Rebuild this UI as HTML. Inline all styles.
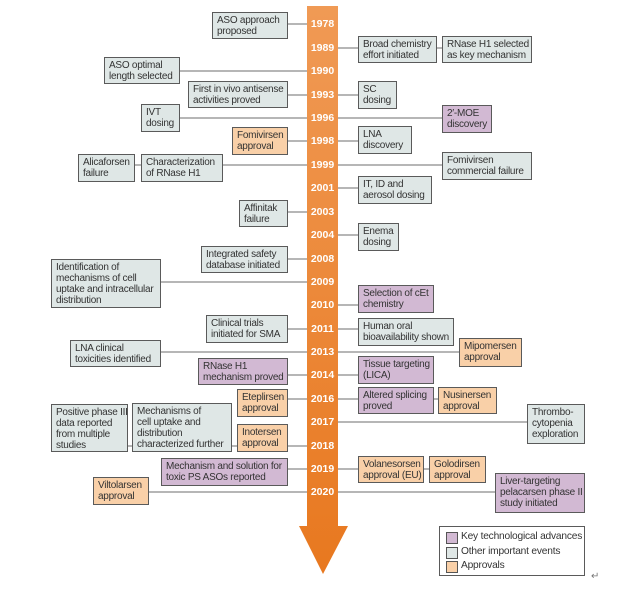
<!DOCTYPE html>
<html><head><meta charset="utf-8"><style>
body{margin:0;width:620px;height:589px;background:#fff;position:relative;overflow:hidden;font-family:"Liberation Sans",sans-serif;}
.b{position:absolute;box-sizing:border-box;border:1px solid #5a5a5a;font-size:10px;line-height:11px;color:#333;padding:2px 2px 0 4px;white-space:nowrap;letter-spacing:-0.25px;overflow:hidden}
.g{background:#dfe7e6}.o{background:#f9d0a8}.p{background:#d2b9d3}
.y{position:absolute;left:307px;width:31px;text-align:center;color:#fff;font-weight:bold;font-size:10.5px;line-height:12px}
svg{position:absolute;left:0;top:0}
</style></head><body>
<svg width="620" height="589">
<defs><linearGradient id="gr" x1="0" y1="0" x2="0" y2="1"><stop offset="0" stop-color="#f09a55"/><stop offset="1" stop-color="#e8781f"/></linearGradient></defs>
<g stroke="#8a8a8a" stroke-width="1.2">
<line x1="288" y1="24" x2="307" y2="24"/>
<line x1="338" y1="48" x2="442" y2="48"/>
<line x1="180" y1="71" x2="307" y2="71"/>
<line x1="288" y1="95" x2="307" y2="95"/><line x1="338" y1="95" x2="358" y2="95"/>
<line x1="180" y1="118" x2="307" y2="118"/><line x1="338" y1="118" x2="442" y2="118"/>
<line x1="288" y1="141" x2="307" y2="141"/><line x1="338" y1="141" x2="358" y2="141"/>
<line x1="135" y1="165" x2="307" y2="165"/><line x1="338" y1="165" x2="442" y2="165"/>
<line x1="338" y1="188" x2="358" y2="188"/>
<line x1="288" y1="212" x2="307" y2="212"/>
<line x1="338" y1="235" x2="358" y2="235"/>
<line x1="288" y1="259" x2="307" y2="259"/>
<line x1="161" y1="282" x2="307" y2="282"/>
<line x1="338" y1="305" x2="358" y2="305"/>
<line x1="288" y1="329" x2="307" y2="329"/><line x1="338" y1="329" x2="358" y2="329"/>
<line x1="161" y1="352" x2="307" y2="352"/><line x1="338" y1="352" x2="459" y2="352"/>
<line x1="288" y1="375" x2="307" y2="375"/><line x1="338" y1="375" x2="358" y2="375"/>
<line x1="288" y1="399" x2="307" y2="399"/><line x1="338" y1="399" x2="438" y2="399"/>
<line x1="338" y1="422" x2="527" y2="422"/>
<line x1="128" y1="446" x2="307" y2="446"/>
<line x1="288" y1="469" x2="307" y2="469"/><line x1="338" y1="469" x2="429" y2="469"/>
<line x1="149" y1="492" x2="307" y2="492"/><line x1="338" y1="492" x2="495" y2="492"/>
</g>
<path d="M307 6 H338 V526 H348 L323 574 L299 526 H307 Z" fill="url(#gr)"/>
</svg>
<div class="y" style="top:18px">1978</div><div class="y" style="top:42px">1989</div><div class="y" style="top:65px">1990</div><div class="y" style="top:89px">1993</div><div class="y" style="top:112px">1996</div><div class="y" style="top:135px">1998</div><div class="y" style="top:159px">1999</div><div class="y" style="top:182px">2001</div><div class="y" style="top:206px">2003</div><div class="y" style="top:229px">2004</div><div class="y" style="top:253px">2008</div><div class="y" style="top:276px">2009</div><div class="y" style="top:299px">2010</div><div class="y" style="top:323px">2011</div><div class="y" style="top:346px">2013</div><div class="y" style="top:369px">2014</div><div class="y" style="top:393px">2016</div><div class="y" style="top:416px">2017</div><div class="y" style="top:440px">2018</div><div class="y" style="top:463px">2019</div><div class="y" style="top:486px">2020</div>

<div class="b g" style="left:212px;top:12px;width:76px;height:27px">ASO approach<br>proposed</div>
<div class="b g" style="left:104px;top:57px;width:76px;height:27px">ASO optimal<br>length selected</div>
<div class="b g" style="left:188px;top:81px;width:100px;height:27px">First in vivo antisense<br>activities proved</div>
<div class="b g" style="left:141px;top:104px;width:39px;height:28px">IVT<br>dosing</div>
<div class="b o" style="left:232px;top:127px;width:56px;height:28px">Fomivirsen<br>approval</div>
<div class="b g" style="left:78px;top:154px;width:57px;height:28px">Alicaforsen<br>failure</div>
<div class="b g" style="left:141px;top:154px;width:82px;height:28px">Characterization<br>of RNase H1</div>
<div class="b g" style="left:358px;top:36px;width:79px;height:27px">Broad chemistry<br>effort initiated</div>
<div class="b g" style="left:442px;top:36px;width:90px;height:27px">RNase H1 selected<br>as key mechanism</div>
<div class="b g" style="left:358px;top:81px;width:39px;height:28px">SC<br>dosing</div>
<div class="b p" style="left:442px;top:105px;width:50px;height:28px">2′-MOE<br>discovery</div>
<div class="b g" style="left:358px;top:126px;width:54px;height:28px">LNA<br>discovery</div>
<div class="b g" style="left:442px;top:152px;width:90px;height:28px">Fomivirsen<br>commercial failure</div>
<div class="b g" style="left:358px;top:176px;width:74px;height:28px">IT, ID and<br>aerosol dosing</div>
<div class="b g" style="left:239px;top:200px;width:49px;height:27px">Affinitak<br>failure</div>
<div class="b g" style="left:358px;top:223px;width:41px;height:28px">Enema<br>dosing</div>
<div class="b g" style="left:201px;top:246px;width:87px;height:27px">Integrated safety<br>database initiated</div>
<div class="b g" style="left:51px;top:259px;width:110px;height:49px">Identification of<br>mechanisms of cell<br>uptake and intracellular<br>distribution</div>
<div class="b p" style="left:358px;top:285px;width:76px;height:28px">Selection of cEt<br>chemistry</div>
<div class="b g" style="left:206px;top:315px;width:82px;height:28px">Clinical trials<br>initiated for SMA</div>
<div class="b g" style="left:358px;top:318px;width:96px;height:28px">Human oral<br>bioavailability shown</div>
<div class="b g" style="left:70px;top:340px;width:91px;height:27px">LNA clinical<br>toxicities identified</div>
<div class="b o" style="left:459px;top:338px;width:63px;height:29px">Mipomersen<br>approval</div>
<div class="b p" style="left:198px;top:358px;width:90px;height:27px">RNase H1<br>mechanism proved</div>
<div class="b p" style="left:358px;top:356px;width:76px;height:28px">Tissue targeting<br>(LICA)</div>
<div class="b o" style="left:237px;top:389px;width:51px;height:28px">Eteplirsen<br>approval</div>
<div class="b p" style="left:358px;top:387px;width:76px;height:27px">Altered splicing<br>proved</div>
<div class="b o" style="left:438px;top:387px;width:59px;height:27px">Nusinersen<br>approval</div>
<div class="b g" style="left:51px;top:404px;width:77px;height:48px">Positive phase III<br>data reported<br>from multiple<br>studies</div>
<div class="b g" style="left:132px;top:403px;width:100px;height:49px">Mechanisms of<br>cell uptake and<br>distribution<br>characterized further</div>
<div class="b o" style="left:237px;top:424px;width:51px;height:28px">Inotersen<br>approval</div>
<div class="b g" style="left:527px;top:404px;width:58px;height:40px">Thrombo-<br>cytopenia<br>exploration</div>
<div class="b p" style="left:161px;top:458px;width:127px;height:28px">Mechanism and solution for<br>toxic PS ASOs reported</div>
<div class="b o" style="left:358px;top:456px;width:66px;height:27px">Volanesorsen<br>approval (EU)</div>
<div class="b o" style="left:429px;top:456px;width:57px;height:27px">Golodirsen<br>approval</div>
<div class="b o" style="left:93px;top:477px;width:56px;height:28px">Viltolarsen<br>approval</div>
<div class="b p" style="left:495px;top:473px;width:90px;height:40px">Liver-targeting<br>pelacarsen phase II<br>study initiated</div>

<div style="position:absolute;left:439px;top:526px;width:146px;height:50px;box-sizing:border-box;border:1px solid #5a5a5a;font-size:10.2px;color:#333;line-height:14.5px;padding:3px 0 0 0;letter-spacing:-0.2px;white-space:nowrap">
<div style="position:relative;padding-left:21px"><span style="position:absolute;left:6px;top:2px;width:10px;height:10px;border:1px solid #555;background:#d2b9d3"></span>Key technological advances</div>
<div style="position:relative;padding-left:21px"><span style="position:absolute;left:6px;top:2px;width:10px;height:10px;border:1px solid #555;background:#dfe7e6"></span>Other important events</div>
<div style="position:relative;padding-left:21px"><span style="position:absolute;left:6px;top:2px;width:10px;height:10px;border:1px solid #555;background:#f9d0a8"></span>Approvals</div>
</div>
<div style="position:absolute;left:591px;top:571px;font-size:10px;color:#777">↵</div>
</body></html>
